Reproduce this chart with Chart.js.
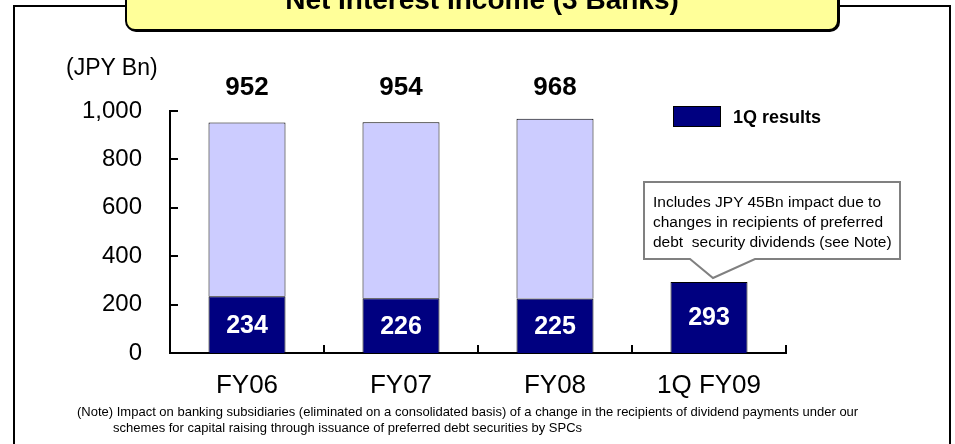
<!DOCTYPE html>
<html>
<head>
<meta charset="utf-8">
<script src="https://cdn.jsdelivr.net/npm/chart.js@4/dist/chart.umd.min.js"></script>
<style>
  html, body { margin: 0; padding: 0; background: #fff; }
  body { width: 955px; height: 444px; position: relative; overflow: hidden; font-family: "Liberation Sans", Arial, sans-serif; }
  #frame { position: absolute; left: 13px; top: 5px; width: 938px; height: 470px; box-sizing: border-box; border: 2px solid #000; }
  #titleBox { position: absolute; left: 125px; top: -30px; width: 714px; height: 61px; box-sizing: border-box;
    background: #ffff99; border: 2px solid #000; border-radius: 10px; box-shadow: 1px 1px 0 #000; }
  #titleText { position: absolute; left: 125px; width: 714px; top: -14px; text-align: center; font-weight: bold; font-size: 28px; line-height: 28px; color: #000; }
  #unit { position: absolute; left: 66px; top: 56px; font-size: 23px; line-height: 23px; }
  #legend { position: absolute; left: 673px; top: 106px; height: 21px; }
  #legend .swatch { position: absolute; left: 0; top: 0; width: 48px; height: 21px; box-sizing: border-box; background: #000080; border: 1px solid #000; }
  #legend .label { position: absolute; left: 60px; top: 1px; font-weight: bold; font-size: 18px; line-height: 20px; white-space: nowrap; }
  #callout { position: absolute; left: 0; top: 0; }
  #calloutText { position: absolute; left: 653px; top: 192px; font-size: 15.5px; line-height: 20px; white-space: pre; }
  #note { position: absolute; left: 77px; top: 404px; font-size: 13px; line-height: 16px; white-space: pre; }
  canvas { position: absolute; left: 0; top: 0; }
</style>
</head>
<body>
<div id="frame"></div>
<canvas id="nii" width="955" height="444"></canvas>
<div id="titleBox"></div>
<div id="titleText">Net Interest Income (3 Banks)</div>
<div id="unit">(JPY Bn)</div>
<div id="legend"><div class="swatch"></div><div class="label">1Q results</div></div>
<svg id="callout" width="955" height="444">
  <path d="M644 182 H900 V259 H755 L713 278 L690 259 H644 Z" fill="#fff" stroke="#808080" stroke-width="2"/>
</svg>
<div id="calloutText">Includes JPY 45Bn impact due to
changes in recipients of preferred
debt  security dividends (see Note)</div>
<div id="note">(Note) Impact on banking subsidiaries (eliminated on a consolidated basis) of a change in the recipients of dividend payments under our
          schemes for capital raising through issuance of preferred debt securities by SPCs</div>
<script>
const categories = ["FY06", "FY07", "FY08", "1Q FY09"];
const firstQuarter = [234, 226, 225, 293];
const fullYear = [952, 954, 968, null];
const yTicks = [0, 200, 400, 600, 800, 1000];

// remainder of the year stacked on top of the 1Q segment
const restOfYear = fullYear.map((v, i) => (v == null ? null : v - firstQuarter[i]));

const FONT = "'Liberation Sans', Arial, sans-serif";

// short tick marks pointing into the plot
const innerTicks = {
  id: "innerTicks",
  afterDraw(chart) {
    const { ctx, chartArea, scales } = chart;
    ctx.save();
    ctx.strokeStyle = "#000";
    ctx.lineWidth = 2;
    ctx.beginPath();
    yTicks.forEach(v => {
      if (v === 0) return;
      const y = Math.round(scales.y.getPixelForValue(v));
      ctx.moveTo(chartArea.left, y);
      ctx.lineTo(chartArea.left + 8, y);
    });
    for (let i = 0; i < categories.length; i++) {
      const x = Math.round(scales.x.getPixelForValue(i + 0.5));
      ctx.moveTo(x, chartArea.bottom);
      ctx.lineTo(x, chartArea.bottom - 8);
    }
    ctx.stroke();
    ctx.restore();
  }
};

// 1Q values inside the navy bars, full-year totals above the columns
const valueLabels = {
  id: "valueLabels",
  afterDatasetsDraw(chart) {
    const { ctx, scales } = chart;
    const bars = chart.getDatasetMeta(0).data;
    ctx.save();
    ctx.textAlign = "center";
    ctx.textBaseline = "middle";
    bars.forEach((bar, i) => {
      ctx.fillStyle = "#fff";
      ctx.font = "bold 25px " + FONT;
      ctx.fillText(String(firstQuarter[i]), bar.x, (bar.y + bar.base) / 2 + 1);
      if (fullYear[i] != null) {
        ctx.fillStyle = "#000";
        ctx.font = "bold 26px " + FONT;
        ctx.fillText(String(fullYear[i]), bar.x, scales.y.getPixelForValue(1100) + 1);
      }
    });
    ctx.restore();
  }
};

new Chart(document.getElementById("nii").getContext("2d"), {
  type: "bar",
  data: {
    labels: categories,
    datasets: [
      {
        label: "1Q results",
        data: firstQuarter,
        backgroundColor: "#000080",
        borderColor: "#000",
        borderWidth: 1,
        barPercentage: 0.5,
        categoryPercentage: 1,
      },
      {
        label: "Full year",
        data: restOfYear,
        backgroundColor: "#ccccff",
        borderColor: "#000",
        borderWidth: 1,
        barPercentage: 0.5,
        categoryPercentage: 1,
      },
    ],
  },
  options: {
    responsive: false,
    animation: false,
    layout: { padding: { top: 111, right: 169, left: 0, bottom: 0 } },
    plugins: { legend: { display: false }, tooltip: { enabled: false } },
    scales: {
      x: {
        stacked: true,
        grid: { display: false },
        border: { color: "#000", width: 2 },
        ticks: { color: "#000", padding: 9, font: { family: FONT, size: 26 } },
        afterFit: s => { s.height = 91; },
      },
      y: {
        stacked: true,
        min: 0,
        max: 1000,
        grid: { display: false },
        border: { color: "#000", width: 2 },
        ticks: {
          stepSize: 200,
          color: "#000",
          padding: 20,
          font: { family: FONT, size: 24 },
          callback: v => v.toLocaleString("en-US"),
        },
        afterFit: s => { s.width = 170; },
      },
    },
  },
  plugins: [innerTicks, valueLabels],
});
</script>
</body>
</html>
